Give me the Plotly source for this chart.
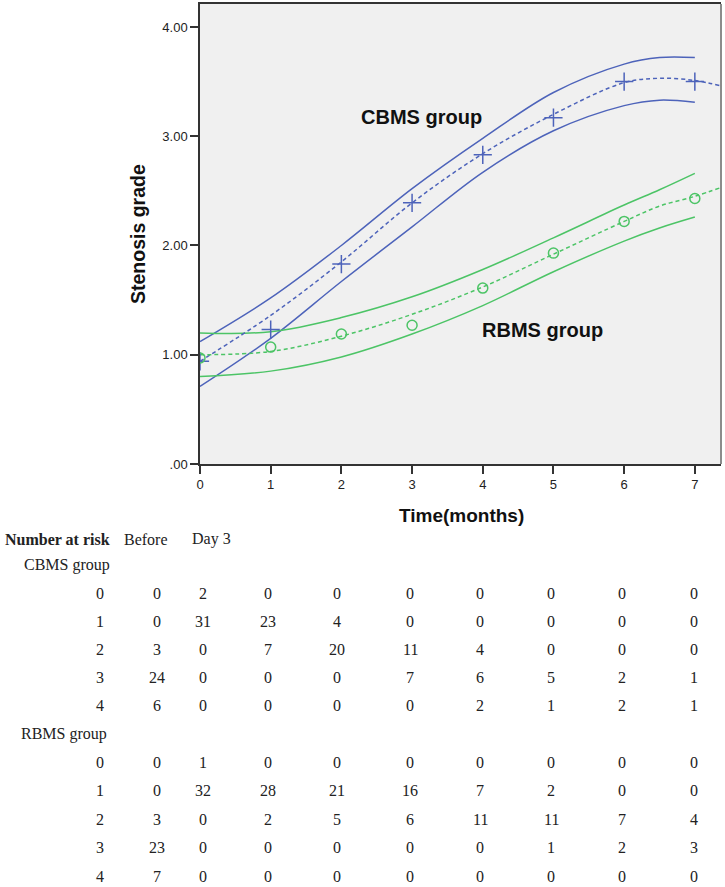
import plotly.graph_objects as go

# ---------------- data ----------------
months = [0, 1, 2, 3, 4, 5, 6, 7]
cbms_mean = [0.94, 1.23, 1.83, 2.39, 2.83, 3.17, 3.50, 3.50]
rbms_mean = [0.97, 1.07, 1.19, 1.27, 1.61, 1.93, 2.22, 2.43]

band_x = [0, 1, 2, 3, 4, 5, 6, 6.5, 7]
fit_x = [0, 1, 2, 3, 4, 5, 6, 6.5, 7, 7.37]
cbms_fit = [0.94, 1.36, 1.85, 2.39, 2.84, 3.20, 3.49, 3.53, 3.51, 3.46]
cbms_upper = [1.12, 1.52, 2.00, 2.52, 2.98, 3.40, 3.66, 3.72, 3.72]
cbms_lower = [0.71, 1.15, 1.67, 2.17, 2.67, 3.05, 3.28, 3.33, 3.31]
rbms_fit = [1.00, 1.03, 1.17, 1.37, 1.62, 1.92, 2.22, 2.36, 2.45, 2.53]
rbms_upper = [1.20, 1.21, 1.34, 1.53, 1.78, 2.07, 2.37, 2.51, 2.66]
rbms_lower = [0.80, 0.85, 0.98, 1.19, 1.45, 1.76, 2.04, 2.16, 2.26]

y_ticks = [0, 1, 2, 3, 4]
y_tick_labels = [".00", "1.00", "2.00", "3.00", "4.00"]
x_ticks = [0, 1, 2, 3, 4, 5, 6, 7]

table_header = ["Number at risk", "Before", "Day 3"]
grades = ["0", "1", "2", "3", "4"]
cbms_risk = [
    [0, 2, 0, 0, 0, 0, 0, 0, 0],
    [0, 31, 23, 4, 0, 0, 0, 0, 0],
    [3, 0, 7, 20, 11, 4, 0, 0, 0],
    [24, 0, 0, 0, 7, 6, 5, 2, 1],
    [6, 0, 0, 0, 0, 2, 1, 2, 1],
]
rbms_risk = [
    [0, 1, 0, 0, 0, 0, 0, 0, 0],
    [0, 32, 28, 21, 16, 7, 2, 0, 0],
    [3, 0, 2, 5, 6, 11, 11, 7, 4],
    [23, 0, 0, 0, 0, 0, 1, 2, 3],
    [7, 0, 0, 0, 0, 0, 0, 0, 0],
]

# ---------------- style ----------------
BLUE = "#4D63BA"
GREEN = "#4CC466"
W, H = 725, 887
L, R, T, B = 200, 4, 4, 423
PW, PH = W - L - R, H - T - B

fig = go.Figure()

def band(x, y, color):
    fig.add_trace(go.Scatter(x=x, y=y, mode="lines", line=dict(color=color, width=1.5, shape="spline"),
                             hoverinfo="skip", showlegend=False))

band(band_x, cbms_upper, BLUE)
band(band_x, cbms_lower, BLUE)
band(band_x, rbms_upper, GREEN)
band(band_x, rbms_lower, GREEN)

fig.add_trace(go.Scatter(x=fit_x, y=cbms_fit, mode="lines",
                         line=dict(color=BLUE, width=1.5, dash="4px,3px", shape="spline"), showlegend=False))
fig.add_trace(go.Scatter(x=fit_x, y=rbms_fit, mode="lines",
                         line=dict(color=GREEN, width=1.5, dash="4px,3px", shape="spline"), showlegend=False))

fig.add_trace(go.Scatter(x=months, y=cbms_mean, mode="markers", name="CBMS group",
                         marker=dict(symbol="cross-thin", size=13, line=dict(color=BLUE, width=1.5)),
                         showlegend=False))
fig.add_trace(go.Scatter(x=months, y=rbms_mean, mode="markers", name="RBMS group",
                         marker=dict(symbol="circle-open", size=10, color=GREEN, line=dict(color=GREEN, width=1.5)),
                         showlegend=False))

def px(x):
    return (x - L) / PW

def py(y):
    return (T + PH - y) / PH

SANS = "Liberation Sans, Arial"
ann = []

def text(x, y, s, font, xanchor="center", **kw):
    ann.append(dict(x=px(x), y=py(y), xref="paper", yref="paper", showarrow=False,
                    xanchor=xanchor, yanchor="middle", text=s, font=font, **kw))

text(421, 117, "<b>CBMS group</b>", dict(family=SANS, size=20, color="#111"))
text(542, 330, "<b>RBMS group</b>", dict(family=SANS, size=20, color="#111"))
text(461, 515, "<b>Time(months)</b>", dict(family=SANS, size=19, color="#111"))
text(138, 234, "<b>Stenosis grade</b>", dict(family=SANS, size=19.5, color="#111"), textangle=-90)

# number-at-risk table
TF = dict(family="Liberation Serif, Times New Roman", size=16, color="#222")
header_x = [3, 122, 190]
for i, (hx, txt) in enumerate(zip(header_x, table_header)):
    text(hx, 539, ("<b>%s</b>" % txt) if i == 0 else txt, TF, xanchor="left")

col_x = [100, 157, 203, 268, 337, 410, 480, 551, 622, 694]

def group_block(label, label_x, label_y, rows, row_ys):
    text(label_x, label_y, label, TF, xanchor="left")
    for g, row, ry in zip(grades, rows, row_ys):
        cells = [g] + [str(v) for v in row]
        for cx, c in zip(col_x, cells):
            text(cx, ry, c, TF)

group_block("CBMS group", 22, 565, cbms_risk, [593, 621, 649, 677, 706])
group_block("RBMS group", 19, 734, rbms_risk, [762, 790, 819, 847, 876])

fig.update_layout(
    width=W, height=H,
    margin=dict(l=L, r=R, t=T, b=B, autoexpand=False),
    paper_bgcolor="white", plot_bgcolor="#F0F0F0",
    annotations=ann,
    shapes=[dict(type="line", xref="paper", yref="paper", x0=1, x1=1, y0=0, y1=1,
                 line=dict(color="#8C8C8C", width=2))],
)
fig.update_xaxes(range=[0, 7.37], tickvals=x_ticks, ticks="outside", ticklen=8, tickwidth=1.5,
                 tickcolor="#333", showline=True, linecolor="#333", linewidth=1.5, mirror=True,
                 showgrid=False, zeroline=False, automargin=False,
                 tickfont=dict(family=SANS, size=13, color="#222"))
fig.update_yaxes(range=[0, 4.21], tickvals=y_ticks, ticktext=y_tick_labels, ticks="outside", ticklen=8,
                 tickwidth=1.5, tickcolor="#333", showline=True, linecolor="#333", linewidth=1.5,
                 showgrid=False, zeroline=False, automargin=False,
                 tickfont=dict(family=SANS, size=13, color="#222"))

fig.write_html("out.html", config={"displayModeBar": False},
               post_script="document.body.style.margin='0';document.body.style.overflow='hidden';")
